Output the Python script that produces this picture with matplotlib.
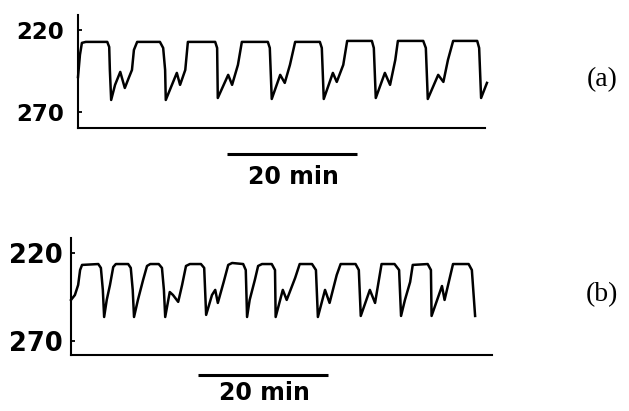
import matplotlib
matplotlib.use("Agg")
import matplotlib.pyplot as plt

# panel (a): time in min, signal value (axis inverted)
ta = [0, 0.3, 0.6, 1.2, 4.5, 4.8, 4.9, 5.1, 5.7, 6.5, 7.2, 7.8, 8.3, 8.6, 9.1,
      12.6, 13.1, 13.4, 13.5, 15.2, 15.7, 16.5, 16.9, 21.1, 21.4, 21.5, 23.1,
      23.7, 24.6, 25.2, 29.2, 29.5, 29.8, 31.1, 31.8, 32.6, 33.4, 37.2, 37.5,
      37.8, 39.2, 39.8, 40.8, 41.4, 45.2, 45.5, 45.8, 47.2, 48.0, 48.8, 49.2,
      53.1, 53.5, 53.8, 55.4, 56.2, 56.9, 57.7, 61.4, 61.7, 62.0, 62.9]
ya = [248.7, 235.2, 227.9, 227.3, 227.3, 230.4, 244.4, 262.7, 253.5, 245.6,
      255.4, 249.3, 244.4, 232.2, 227.3, 227.3, 231.0, 244.4, 262.7, 246.2,
      253.5, 244.4, 227.3, 227.3, 231.0, 261.5, 247.4, 253.5, 241.3, 227.3,
      227.3, 231.0, 262.1, 247.4, 252.3, 241.3, 227.3, 227.3, 231.0, 262.1,
      246.2, 251.7, 241.3, 226.7, 226.7, 231.0, 261.5, 246.2, 253.5, 238.3,
      226.7, 226.7, 231.0, 262.1, 247.4, 251.7, 238.3, 226.7, 226.7, 231.0,
      261.5, 252.3]

# panel (b)
tb = [0, 0.6, 1.1, 1.4, 1.7, 4.2, 4.6, 4.9, 5.1, 5.5, 6.0, 6.5, 6.9, 8.8, 9.2,
      9.5, 9.7, 10.3, 11.1, 11.7, 12.2, 13.5, 14.0, 14.3, 14.5, 15.2, 15.7,
      16.5, 17.1, 17.7, 18.3, 20.0, 20.5, 20.8, 21.7, 22.2, 22.6, 23.5, 24.2,
      24.8, 26.5, 26.9, 27.1, 27.5, 28.3, 28.8, 29.4, 30.9, 31.4, 31.5, 32.6,
      33.2, 34.5, 35.2, 37.1, 37.7, 38.0, 39.1, 39.8, 40.9, 41.5, 43.8, 44.3,
      44.6, 46.0, 46.8, 47.8, 49.8, 50.5, 50.8, 51.4, 52.2, 52.6, 54.9, 55.4,
      55.5, 57.1, 57.5, 58.8, 61.2, 61.7, 62.2]
yb = [246.7, 243.9, 238.2, 229.7, 226.8, 226.3, 228.5, 241.0, 256.4, 246.7,
      238.2, 228.0, 226.3, 226.3, 228.5, 241.0, 256.4, 246.7, 235.3, 227.4,
      226.3, 226.3, 228.5, 241.0, 256.4, 242.2, 243.9, 247.8, 238.2, 227.4,
      226.3, 226.3, 228.5, 255.2, 243.9, 241.0, 248.4, 236.5, 226.8, 225.7,
      226.3, 229.7, 256.4, 246.7, 235.3, 227.4, 226.3, 226.3, 229.7, 256.4,
      241.0, 246.7, 234.2, 226.3, 226.3, 229.7, 256.4, 241.0, 248.4, 232.5,
      226.3, 226.3, 229.7, 255.8, 241.0, 248.4, 226.3, 226.3, 229.7, 255.8,
      246.7, 236.5, 226.8, 226.3, 229.7, 255.8, 238.8, 246.7, 226.3, 226.3,
      229.7, 255.8]

yticks = [220, 270]
scale_len = 20

fig = plt.figure(figsize=(6.29, 4.11), dpi=100)


def panel(rect, t, y, xlim, ylim, bar_x, bar_y, txt_y, fs, pad, label, label_y):
    ax = fig.add_axes(rect)
    ax.plot(t, y, color="black", lw=1.8, clip_on=False, solid_joinstyle="round")
    ax.set_xlim(*xlim)
    ax.set_ylim(*ylim)
    for s in ["top", "right"]:
        ax.spines[s].set_visible(False)
    for s in ["left", "bottom"]:
        ax.spines[s].set_linewidth(1.5)
    ax.set_xticks([])
    ax.set_yticks(yticks)
    ax.set_yticklabels([str(v) for v in yticks], fontweight="bold", fontsize=fs,
                       family="DejaVu Sans")
    ax.tick_params(axis="y", direction="in", length=3, width=1.3, pad=pad)
    ax.plot([bar_x, bar_x + scale_len], [bar_y, bar_y], color="black", lw=2.2,
            clip_on=False, solid_capstyle="butt")
    ax.text(bar_x + scale_len / 2 + 0.3, txt_y, "20 min", ha="center", va="center",
            fontsize=17, fontweight="bold", family="DejaVu Sans")
    fig.text(602 / 629, label_y, label, ha="center", va="center", fontsize=20,
             family="Liberation Serif")
    return ax


panel([78 / 629, 1 - 128 / 411, 407 / 629, 113 / 411], ta, ya, (0, 62.6),
      (279.8, 210.9), 22.9, 295.6, 309.6, 16.5, 10, "(a)", 1 - 80 / 411)
panel([71 / 629, 1 - 355 / 411, 421 / 629, 117 / 411], tb, yb, (0, 64.8),
      (278, 211.5), 19.5, 289.3, 299.5, 18.5, 6, "(b)", 1 - 295 / 411)

fig.savefig("out.png", dpi=100)
